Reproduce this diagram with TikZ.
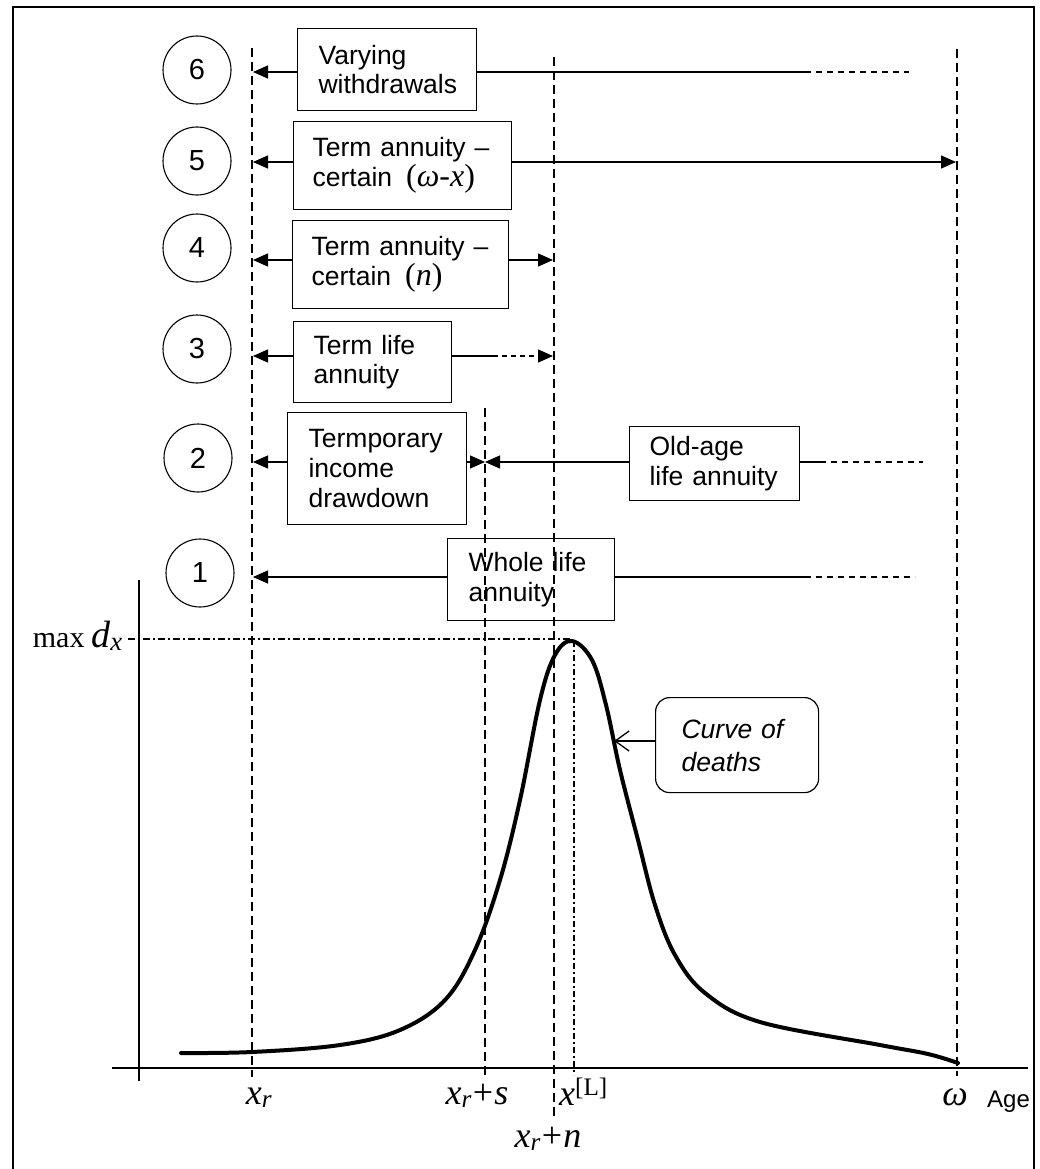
\documentclass[tikz,border=0pt]{standalone}
\usepackage{fontspec}
\setmainfont{Liberation Sans}
\newfontfamily\tms{Liberation Serif}
\usetikzlibrary{arrows.meta}

\begin{document}
\begin{tikzpicture}[x=1pt,y=-1pt,
  every node/.style={inner sep=0pt},
  frame/.style={line width=2.2pt},
  box/.style={draw, line width=1.2pt, anchor=north west, align=left,
    font=\fontsize{26.5}{29.8}\selectfont, inner ysep=0pt},
  num/.style={draw, circle, line width=1.1pt, minimum size=68pt, inner sep=0pt,
    font=\fontsize{29}{32}\selectfont},
  guide/.style={line width=1.1pt, dash pattern=on 9pt off 5pt},
  link/.style={line width=1.3pt},
  tail/.style={line width=1.3pt, dash pattern=on 6pt off 5pt},
  arr/.style={link, -{Triangle[length=15pt,width=13pt]}},
  dashdot/.style={line width=1.1pt, dash pattern=on 7pt off 3pt on 2pt off 3pt},
  lbl/.style={font=\tms\fontsize{36}{40}\selectfont\itshape, anchor=base},
  axis/.style={line width=2pt},
  curve/.style={line width=4pt, line cap=round, line join=round},
]
\useasboundingbox (0,0) rectangle (1039,1169);
\draw[frame] (13,1175) -- (13,7) -- (1034,7) -- (1034,1175);

% ages on the horizontal axis
\coordinate (xrT) at (252,48);   \coordinate (xrB) at (252,1077);
\coordinate (xsT) at (485,408);  \coordinate (xsB) at (485,1078);
\coordinate (xnT) at (554,57);   \coordinate (xnB) at (554,1118);
\coordinate (xLT) at (574,641);  \coordinate (xLB) at (574,1075);
\coordinate (omT) at (957,49);   \coordinate (omB) at (957,1076);
\draw[guide] (xrT) -- (xrB);
\draw[guide] (xsT) -- (xsB);
\draw[guide] (xnT) -- (xnB);
\draw[guide] (omT) -- (omB);
\draw[dashdot, dash pattern=on 6pt off 3pt on 2pt off 3pt] (xLT) -- (xLB);

% axes
\coordinate (ax0) at (112,1068); \coordinate (ax1) at (1028,1068);
\coordinate (ay0) at (139,580);  \coordinate (ay1) at (139,1081);
\draw[axis] (ax0) -- (ax1);
\draw[axis] (ay0) -- (ay1);

% numbered products
\node[num] (c6) at (197,70)  {6};
\node[num] (c5) at (197,161) {5};
\node[num] (c4) at (197,248) {4};
\node[num] (c3) at (197,349) {3};
\node[num] (c2) at (198,458) {2};
\node[num] (c1) at (200,573) {1};

% product boxes
\node[box, text width=137pt, inner xsep=21pt, minimum height=82pt] (b6) at (297,28) {Varying\\withdrawals};
\node[box, text width=186pt, inner xsep=16pt, minimum height=88pt] (b5) at (293,121)
  {\hspace{3pt}Term annuity --\\\hspace{3pt}certain\hspace{14pt}{\tms\fontsize{32}{30}\selectfont(\textit{ω}-\textit{x})}};
\node[box, text width=186pt, inner xsep=15pt, minimum height=88pt] (b4) at (292,220)
  {\hspace{4pt}Term annuity --\\\hspace{4pt}certain\hspace{14pt}{\tms\fontsize{32}{30}\selectfont(\textit{n})}};
\node[box, text width=118pt, inner xsep=20pt, minimum height=81pt] (b3) at (293,321) {Term life\\annuity};
\node[box, text width=137pt, inner xsep=21pt, minimum height=112pt] (b2) at (287,412) {Termporary\\income\\drawdown};
\node[box, text width=130pt, inner xsep=20pt, minimum height=74pt] (bo) at (629,426) {Old-age\\life annuity};
\node[box, text width=125pt, inner xsep=21pt, minimum height=82pt] (b1) at (447,538) {Whole life\\annuity};

% row 6
\coordinate (l6) at (253,72); \coordinate (m6) at (805,72); \coordinate (e6) at (909,72);
\draw[arr] (b6.west |- l6) -- (l6);
\draw[link] (b6.east |- l6) -- (m6);
\draw[tail] (m6) -- (e6);
% row 5
\coordinate (l5) at (253,162); \coordinate (r5) at (956,162);
\draw[arr] (b5.west |- l5) -- (l5);
\draw[arr] (b5.east |- l5) -- (r5);
% row 4
\coordinate (l4) at (253,260); \coordinate (r4) at (553,260);
\draw[arr] (b4.west |- l4) -- (l4);
\draw[arr] (b4.east |- l4) -- (r4);
% row 3
\coordinate (l3) at (253,356); \coordinate (m3) at (493,356); \coordinate (r3) at (553,356);
\draw[arr] (b3.west |- l3) -- (l3);
\draw[link] (b3.east |- l3) -- (m3);
\draw[arr, dash pattern=on 5pt off 4pt] (m3) -- (r3);
% row 2
\coordinate (l2) at (253,462); \coordinate (s2) at (485,462);
\coordinate (m2) at (820,462); \coordinate (e2) at (923,462);
\draw[arr] (b2.west |- l2) -- (l2);
\draw[arr] (b2.east |- l2) -- (s2);
\draw[arr] (bo.west |- l2) -- (s2);
\draw[link] (bo.east |- l2) -- (m2);
\draw[tail] (m2) -- (e2);
% row 1
\coordinate (l1) at (253,577); \coordinate (m1) at (805,577); \coordinate (e1) at (915,577);
\draw[arr] (b1.west |- l1) -- (l1);
\draw[link] (b1.east |- l1) -- (m1);
\draw[tail] (m1) -- (e1);

% level of the peak
\coordinate (pk) at (572,639);
\coordinate (pk0) at (128,639);
\draw[dashdot] (pk0) -- (pk);

% curve of deaths
\draw[curve] plot[smooth, tension=0.6] coordinates {
  (181,1053) (252,1052) (340,1045) (400,1030) (445,1000) (475,950)
  (500,880) (520,800) (540,700) (555,655) (572,641) (592,660) (606,705)
  (620,770) (638,840) (655,905) (675,955) (705,993) (760,1022)
  (880,1045) (928,1054) (958,1063)};

\node[draw, line width=1.2pt, rounded corners=14pt, anchor=north west, align=left,
  text width=111pt, inner xsep=26pt, minimum height=95pt,
  font=\fontsize{26.5}{33}\selectfont\itshape] (cod) at (655,697) {Curve of\\deaths};
\coordinate (tip) at (614,741);
\draw[line width=1.3pt, -{Straight Barb[length=14pt,width=20pt]}] (cod.west |- tip) -- (tip);

% axis labels
\node[lbl, anchor=base east] (lmax) at (123,647)
  {{\upshape\fontsize{30}{32}\selectfont max}\hspace{7pt}{\fontsize{38}{40}\selectfont d\textsubscript{x}}};
\node[lbl] (lxr) at (259,1104) {x\textsubscript{r}};
\node[lbl] (lxs) at (477,1104) {x\textsubscript{r}\kern1pt{\upshape+}\kern1pt s};
\node[lbl, anchor=base west] (lxL) at (559,1105) {x\textsuperscript{\upshape[L]}};
\node[lbl] (lxn) at (548,1147) {x\textsubscript{r}\kern1pt{\upshape+}\kern1pt n};
\node[lbl] (lom) at (955,1105) {ω};
\node[anchor=base west, font=\fontsize{24}{26}\selectfont] (lage) at (987,1107) {Age};
\end{tikzpicture}
\end{document}
